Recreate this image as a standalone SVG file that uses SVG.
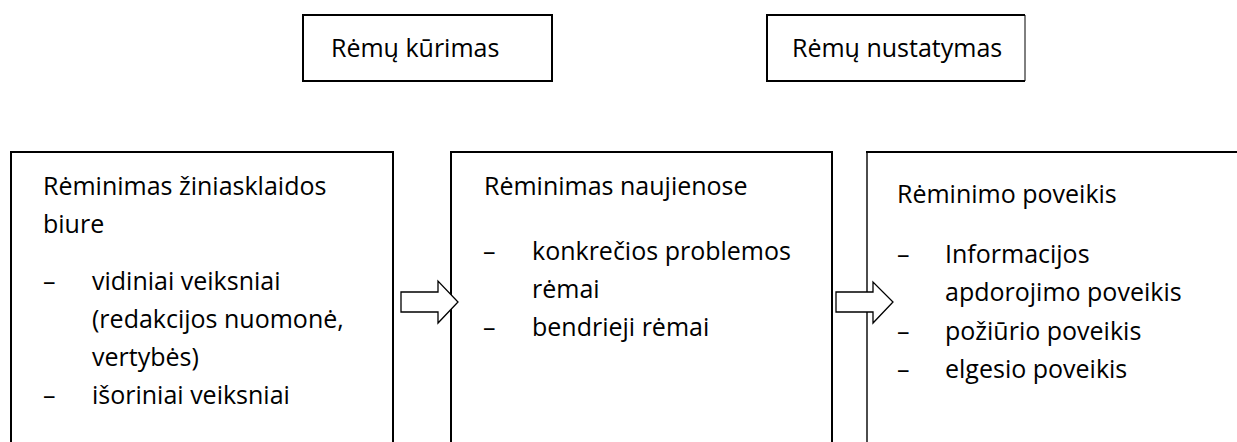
<svg xmlns="http://www.w3.org/2000/svg" width="1237" height="442" viewBox="0 0 1237 442">
<style>
.t{font-family:"Open Sans","Noto Sans","Liberation Sans",sans-serif;font-size:25px;fill:#000}
.b{fill:none;stroke:#000;stroke-width:2}
.a{fill:#fff;stroke:#000;stroke-width:1.3;stroke-linejoin:miter}
</style>
<rect width="1237" height="442" fill="#fff"/>
<g id="top1">
<rect class="b" x="303" y="15" width="249" height="66"/>
<text class="t" x="331" y="57">Rėmų kūrimas</text>
</g>
<g id="top2">
<path class="b" d="M1025,15 H767 V81 H1025"/>
<line x1="1025" y1="15" x2="1025" y2="81" stroke="#000" stroke-width="1"/>
<text class="t" x="792" y="57">Rėmų nustatymas</text>
</g>
<g id="box1">
<path class="b" d="M11,442 V152 H393 V442"/>
<text class="t" x="43" y="195">Rėminimas žiniasklaidos</text>
<text class="t" x="43" y="233">biure</text>
<text class="t" x="43" y="290">–</text>
<text class="t" x="92" y="290">vidiniai veiksniai</text>
<text class="t" x="92" y="328">(redakcijos nuomonė,</text>
<text class="t" x="92" y="366">vertybės)</text>
<text class="t" x="43" y="404">–</text>
<text class="t" x="92" y="404">išoriniai veiksniai</text>
</g>
<g id="box2">
<path class="b" d="M451,442 V152 H832 V442"/>
<text class="t" x="484" y="195">Rėminimas naujienose</text>
<text class="t" x="483" y="260">–</text>
<text class="t" x="532" y="260">konkrečios problemos</text>
<text class="t" x="532" y="298">rėmai</text>
<text class="t" x="483" y="336">–</text>
<text class="t" x="532" y="336">bendrieji rėmai</text>
</g>
<g id="box3">
<path d="M867,442 V152" stroke="#000" stroke-width="1.4" fill="none"/>
<path d="M866,152 H1237" stroke="#000" stroke-width="2" fill="none"/>
<text class="t" x="897" y="203">Rėminimo poveikis</text>
<text class="t" x="897" y="263">–</text>
<text class="t" x="945" y="263">Informacijos</text>
<text class="t" x="945" y="301">apdorojimo poveikis</text>
<text class="t" x="897" y="340">–</text>
<text class="t" x="945" y="340">požiūrio poveikis</text>
<text class="t" x="897" y="378">–</text>
<text class="t" x="945" y="378">elgesio poveikis</text>
</g>
<g id="connectors">
<path class="a" d="M401,292 H438 V281 L458,302 L438,323 V312 H401 Z"/>
<path class="a" d="M836,292 H873 V282 L893,302 L873,323 V312 H836 Z"/>
</g>
</svg>
